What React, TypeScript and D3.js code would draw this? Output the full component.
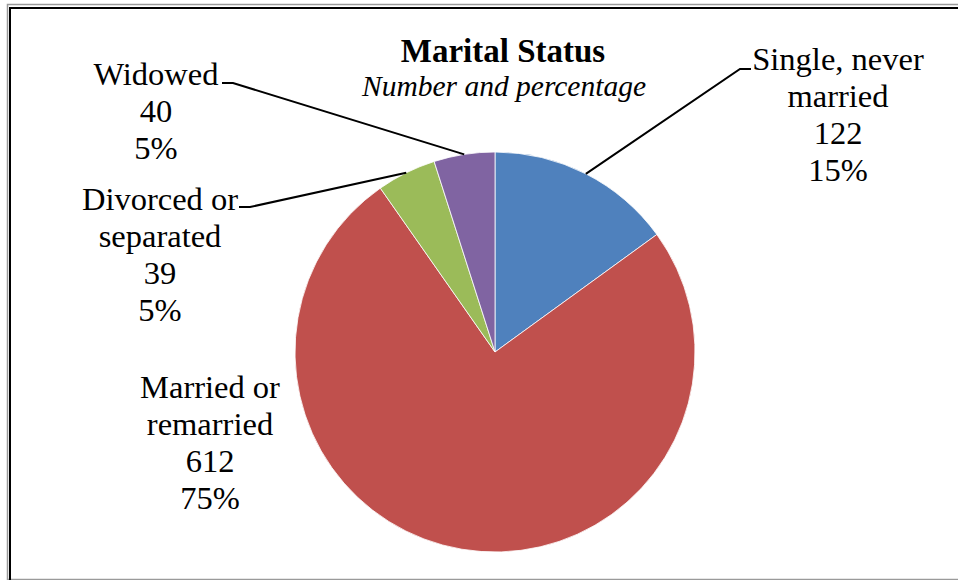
import React from "react";
import * as d3 from "d3";

const categories = ["Single, never married", "Married or remarried", "Divorced or separated", "Widowed"];
const counts = [122, 612, 39, 40];
const percents = ["15%", "75%", "5%", "5%"];
const labelLines = [
  ["Single, never", "married"],
  ["Married or", "remarried"],
  ["Divorced or", "separated"],
  ["Widowed"],
];
const colors = ["#4F81BD", "#C0504D", "#9BBB59", "#8064A2"];

const width = 958;
const height = 580;
const cx = 495;
const cy = 352;
const radius = 200;
const fontFamily = "'Liberation Serif', 'Times New Roman', serif";
const lineStep = 37;

// label blocks: centre x, first baseline, and where the leader line ends (null = no leader)
const labelLayout = [
  { x: 838, y: 70, leader: { x: 740, y: 69, dir: 1 } },
  { x: 210, y: 398, leader: null },
  { x: 160, y: 210, leader: { x: 250, y: 207, dir: -1 } },
  { x: 156, y: 85, leader: { x: 233, y: 83, dir: -1 } },
];

const App = () => {
  const pie = d3.pie<number>().sort(null).value((d) => d);
  const arcs = pie(counts);
  const arc = d3.arc<d3.PieArcDatum<number>>().innerRadius(0).outerRadius(radius);
  const edge = d3.arc<d3.PieArcDatum<number>>().innerRadius(radius).outerRadius(radius);

  return (
    <svg
      width={width}
      height={height}
      style={{ position: "absolute", left: 0, top: 0, background: "#fff" }}
      fontFamily={fontFamily}
    >
      {/* frame */}
      <path d={`M7.5,${height} V4.5 H${width}`} fill="none" stroke="#9a9a9a" strokeWidth={1.5} />
      <line x1={7} x2={width} y1={579.5} y2={579.5} stroke="#9a9a9a" strokeWidth={1.5} />
      <path d={`M10,${height} V8 H${width}`} fill="none" stroke="#000" strokeWidth={2} />

      {/* title */}
      <text x={503} y={62} textAnchor="middle" fontSize={33} fontWeight="bold">
        Marital Status
      </text>
      <text x={504} y={96} textAnchor="middle" fontSize={29.5} fontStyle="italic">
        Number and percentage
      </text>

      {/* slices */}
      <g transform={`translate(${cx},${cy})`}>
        {arcs.map((a, i) => (
          <path key={categories[i]} d={arc(a) || ""} fill={colors[i]} stroke="#fff" strokeWidth={0.8} />
        ))}
      </g>

      {/* leader lines */}
      {arcs.map((a, i) => {
        const l = labelLayout[i].leader;
        if (!l) return null;
        const [px, py] = edge.centroid(a);
        return (
          <polyline
            key={"leader-" + i}
            points={`${cx + px},${cy + py} ${l.x},${l.y} ${l.x + l.dir * 11},${l.y}`}
            fill="none"
            stroke="#000"
            strokeWidth={2}
          />
        );
      })}

      {/* labels */}
      {labelLines.map((lines, i) => {
        const lay = labelLayout[i];
        const all = [...lines, String(counts[i]), percents[i]];
        return (
          <text key={"label-" + i} textAnchor="middle" fontSize={32.5} fill="#000">
            {all.map((t, j) => (
              <tspan key={j} x={lay.x} y={lay.y + j * lineStep}>
                {t}
              </tspan>
            ))}
          </text>
        );
      })}
    </svg>
  );
};

export default App;
